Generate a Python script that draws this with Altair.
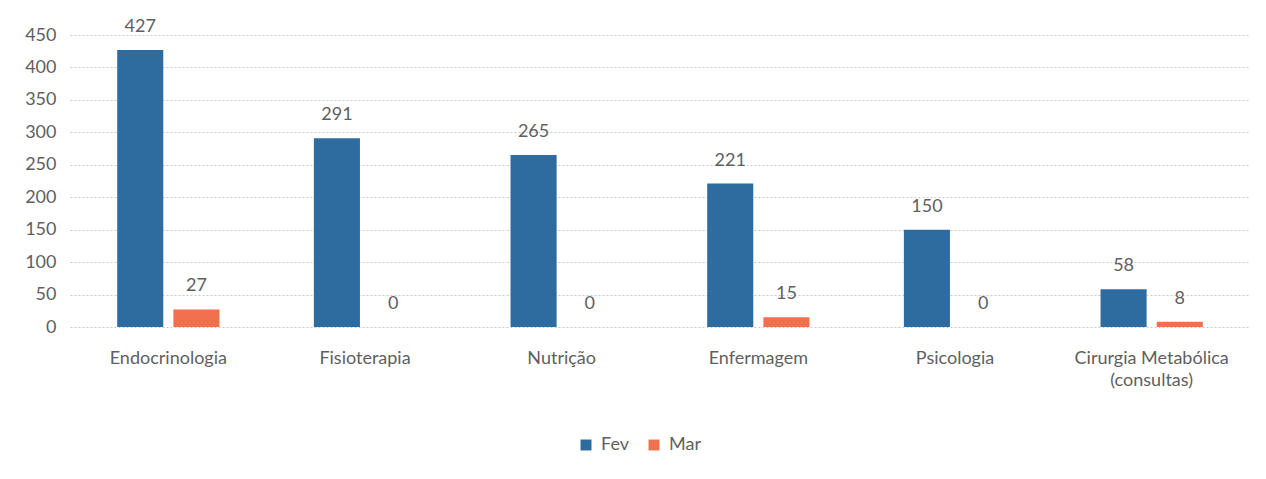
import altair as alt
import pandas as pd

categories = ["Endocrinologia", "Fisioterapia", "Nutrição", "Enfermagem", "Psicologia",
              "Cirurgia Metabólica|(consultas)"]
fev = [427, 291, 265, 221, 150, 58]
mar = [27, 0, 0, 15, 0, 8]
series = ["Fev", "Mar"]
colors = ["#2E6B9E", "#F2704F"]
y_ticks = [0, 50, 100, 150, 200, 250, 300, 350, 400, 450]

rows = []
for c, a, b in zip(categories, fev, mar):
    rows.append({"cat": c, "serie": "Fev", "v": a})
    rows.append({"cat": c, "serie": "Mar", "v": b})
df = pd.DataFrame(rows)

FONT = "Lato"
TXT = "#5f5f5f"

x = alt.X("cat:N", sort=categories, title=None,
          scale=alt.Scale(paddingInner=0.48, paddingOuter=0.24),
          axis=alt.Axis(labelAngle=0, labelExpr="split(datum.label, '|')",
                        labelFontSize=18, labelFont=FONT, labelColor=TXT,
                        labelPadding=22, ticks=False, domain=False, labelLineHeight=22))
xo = alt.XOffset("serie:N", sort=series, scale=alt.Scale(paddingInner=0.18))
y = alt.Y("v:Q", title=None,
          scale=alt.Scale(domain=[0, 450], nice=False),
          axis=alt.Axis(values=y_ticks, tickCount=10, labelOverlap=False,
                        labelFontSize=18, labelFont=FONT, labelColor=TXT,
                        labelPadding=14, ticks=False, domain=False,
                        gridColor="#c8c8c8", gridDash=[2, 2], gridWidth=1))
color = alt.Color("serie:N", sort=series, scale=alt.Scale(domain=series, range=colors),
                  legend=alt.Legend(title=None, orient="none", direction="horizontal",
                                    legendX=507, legendY=401, symbolType="square",
                                    symbolSize=120, symbolStrokeWidth=0,
                                    labelFontSize=18, labelFont=FONT, labelColor=TXT,
                                    columnPadding=16, labelOffset=6))

base = alt.Chart(df)
bars = base.mark_bar().encode(x=x, xOffset=xo, y=y, color=color)
labels = base.mark_text(font=FONT, fontSize=18, color=TXT, baseline="middle", dy=-23).encode(
    x=alt.X("cat:N", sort=categories), xOffset=xo, y="v:Q", text="v:Q")

chart = (bars + labels).properties(
    width=1180, height=292,
    autosize=alt.AutoSizeParams(type="none"),
    padding={"left": 62, "top": 27, "right": 8, "bottom": 140},
).configure(background="white").configure_view(stroke=None)

chart.save("out.html", embed_options={"renderer": "svg", "actions": False})
